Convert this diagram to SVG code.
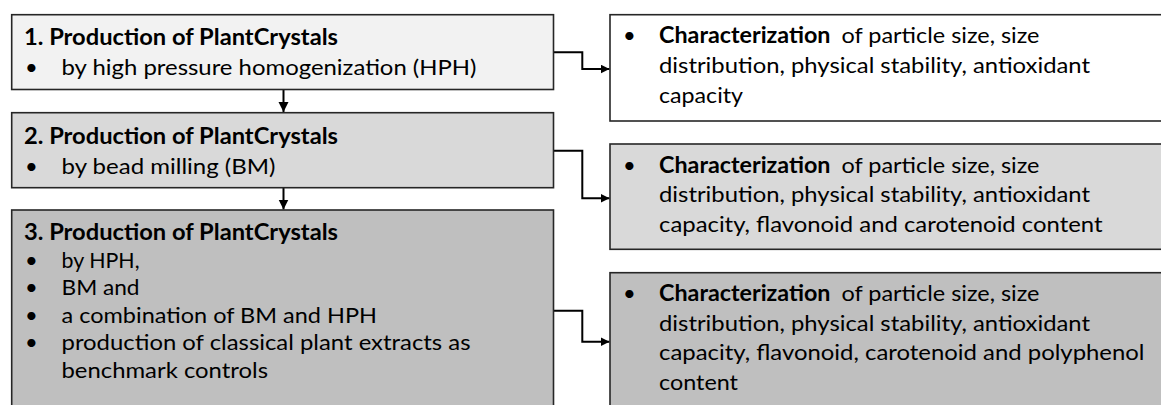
<svg xmlns="http://www.w3.org/2000/svg" width="1161" height="405" viewBox="0 0 1161 405">
<style>
.box{stroke:#262626;stroke-width:1.6}
.t{font-family:Lato,"Open Sans","Liberation Sans",sans-serif;font-size:22px;fill:#000}
.b{font-weight:bold}
.c{fill:none;stroke:#000;stroke-width:2}
</style>
<defs>
<marker id="ah" viewBox="0 0 10 10" refX="10" refY="5" markerWidth="9" markerHeight="9" markerUnits="userSpaceOnUse" orient="auto">
<path d="M0,0 L10,5 L0,10 z" fill="#000"/>
</marker>
<marker id="ahv" viewBox="0 0 10 10" refX="10" refY="5" markerWidth="10" markerHeight="11" markerUnits="userSpaceOnUse" orient="auto">
<path d="M0,0 L10,5 L0,10 z" fill="#000"/>
</marker>
</defs>
<rect width="1161" height="405" fill="#fff"/>
<g id="connectors">
<path class="c" d="M283.5,89.5 V112" marker-end="url(#ahv)"/>
<path class="c" d="M283.5,187.5 V209.5" marker-end="url(#ahv)"/>
<path class="c" d="M553.5,52.3 H582.3 V69 H609.5" marker-end="url(#ah)"/>
<path class="c" d="M553.5,150.7 H582.3 V198.3 H609.5" marker-end="url(#ah)"/>
<path class="c" d="M553.5,310.7 H582.3 V341.7 H609.5" marker-end="url(#ah)"/>
</g>
<g id="n1">
<rect class="box" x="11.7" y="14.7" width="541.8" height="74.8" fill="#f2f2f2"/>
<text class="t b" x="24" y="45" textLength="314" lengthAdjust="spacingAndGlyphs">1. Production of PlantCrystals</text>
<text class="t" x="25" y="75">•</text>
<text class="t" x="61.5" y="75" textLength="415" lengthAdjust="spacingAndGlyphs">by high pressure homogenization (HPH)</text>
</g>
<g id="n2">
<rect class="box" x="11.7" y="112.7" width="541.8" height="75" fill="#d9d9d9"/>
<text class="t b" x="24" y="143.5" textLength="314" lengthAdjust="spacingAndGlyphs">2. Production of PlantCrystals</text>
<text class="t" x="25" y="174">•</text>
<text class="t" x="61.5" y="174" textLength="214" lengthAdjust="spacingAndGlyphs">by bead milling (BM)</text>
</g>
<g id="n3">
<rect class="box" x="11.7" y="210" width="541.8" height="210" fill="#bfbfbf"/>
<text class="t b" x="24" y="240" textLength="314" lengthAdjust="spacingAndGlyphs">3. Production of PlantCrystals</text>
<text class="t" x="25" y="267.5">•</text>
<text class="t" x="61.5" y="267.5" textLength="78" lengthAdjust="spacingAndGlyphs">by HPH,</text>
<text class="t" x="25" y="295">•</text>
<text class="t" x="61.5" y="295" textLength="78" lengthAdjust="spacingAndGlyphs">BM and</text>
<text class="t" x="25" y="322.5">•</text>
<text class="t" x="61.5" y="322.5" textLength="315.5" lengthAdjust="spacingAndGlyphs">a combination of BM and HPH</text>
<text class="t" x="25" y="350">•</text>
<text class="t" x="61.5" y="350" textLength="409" lengthAdjust="spacingAndGlyphs">production of classical plant extracts as</text>
<text class="t" x="61.5" y="377.5" textLength="206.5" lengthAdjust="spacingAndGlyphs">benchmark controls</text>
</g>
<g id="r1">
<rect class="box" x="610" y="14.7" width="570" height="106.3" fill="#ffffff"/>
<text class="t" x="623" y="43">•</text>
<text class="t" x="659" y="43"><tspan class="b" textLength="171.5" lengthAdjust="spacingAndGlyphs">Characterization</tspan><tspan x="841.5" textLength="198" lengthAdjust="spacingAndGlyphs">of particle size, size</tspan></text>
<text class="t" x="659" y="73" textLength="431" lengthAdjust="spacingAndGlyphs">distribution, physical stability, antioxidant</text>
<text class="t" x="659" y="102.5" textLength="84" lengthAdjust="spacingAndGlyphs">capacity</text>
</g>
<g id="r2">
<rect class="box" x="610" y="144" width="570" height="105.3" fill="#d9d9d9"/>
<text class="t" x="623" y="172.5">•</text>
<text class="t" x="659" y="172.5"><tspan class="b" textLength="171.5" lengthAdjust="spacingAndGlyphs">Characterization</tspan><tspan x="841.5" textLength="198" lengthAdjust="spacingAndGlyphs">of particle size, size</tspan></text>
<text class="t" x="659" y="202" textLength="431" lengthAdjust="spacingAndGlyphs">distribution, physical stability, antioxidant</text>
<text class="t" x="659" y="231.5" textLength="443.5" lengthAdjust="spacingAndGlyphs">capacity, flavonoid and carotenoid content</text>
</g>
<g id="r3">
<rect class="box" x="610" y="272.7" width="570" height="150" fill="#bfbfbf"/>
<text class="t" x="623" y="301">•</text>
<text class="t" x="659" y="301"><tspan class="b" textLength="171.5" lengthAdjust="spacingAndGlyphs">Characterization</tspan><tspan x="841.5" textLength="198" lengthAdjust="spacingAndGlyphs">of particle size, size</tspan></text>
<text class="t" x="659" y="330.5" textLength="431" lengthAdjust="spacingAndGlyphs">distribution, physical stability, antioxidant</text>
<text class="t" x="659" y="360" textLength="485.5" lengthAdjust="spacingAndGlyphs">capacity, flavonoid, carotenoid and polyphenol</text>
<text class="t" x="659" y="389.5" textLength="79" lengthAdjust="spacingAndGlyphs">content</text>
</g>
</svg>
